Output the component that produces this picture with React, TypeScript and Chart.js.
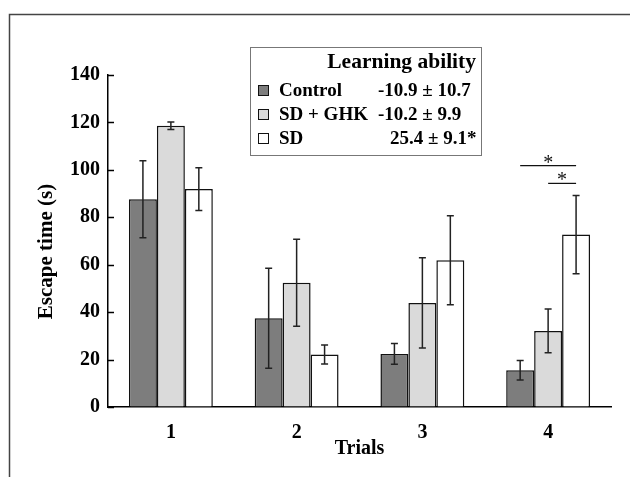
import React, { useEffect, useRef } from 'react';
import { Chart, registerables } from 'chart.js';
Chart.register(...registerables);

const trials = ['1', '2', '3', '4'];
const seriesNames = ['Control', 'SD + GHK', 'SD'];
const controlMean = [87.6, 37.4, 22.4, 15.5];
const controlErr = [16.2, 21.1, 4.4, 4.1];
const ghkMean = [118.6, 52.4, 43.9, 32.1];
const ghkErr = [1.6, 18.3, 19.0, 9.2];
const sdMean = [91.9, 22.1, 61.9, 72.7];
const sdErr = [9.0, 4.0, 18.8, 16.5];
const yTicks = [0, 20, 40, 60, 80, 100, 120, 140];
const legendTitle = 'Learning ability';
const learningValues = ['-10.9 ± 10.7', '-10.2 ± 9.9', '25.4 ± 9.1*'];
// significance brackets: trial index, from series, to series, level (s)
const sigTrial = [3, 3];
const sigFrom = [0, 1];
const sigTo = [2, 2];
const sigLevel = [101.8, 94.3];
const sigLabel = ['*', '*'];

const colors = ['#7d7d7d', '#dadada', '#ffffff'];
const errs = [controlErr, ghkErr, sdErr];
const FONT = "'Liberation Serif', 'Times New Roman', serif";

const extrasPlugin = {
  id: 'extras',
  beforeDraw(chart: any) {
    const ctx = chart.ctx;
    ctx.save();
    ctx.fillStyle = '#fff';
    ctx.fillRect(0, 0, chart.width, chart.height);
    ctx.strokeStyle = '#444';
    ctx.lineWidth = 1.5;
    ctx.strokeRect(9.5, 14.5, 700, 600);
    ctx.restore();
  },
  afterDatasetsDraw(chart: any) {
    const ctx = chart.ctx;
    const y = chart.scales.y;
    ctx.save();
    // error bars
    ctx.strokeStyle = '#222';
    ctx.lineWidth = 1.5;
    chart.data.datasets.forEach((ds: any, i: number) => {
      const meta = chart.getDatasetMeta(i);
      meta.data.forEach((el: any, j: number) => {
        const m = ds.data[j];
        const e = errs[i][j];
        const yt = y.getPixelForValue(m + e);
        const yb = y.getPixelForValue(m - e);
        ctx.beginPath();
        ctx.moveTo(el.x, yt);
        ctx.lineTo(el.x, yb);
        ctx.moveTo(el.x - 3.5, yt);
        ctx.lineTo(el.x + 3.5, yt);
        ctx.moveTo(el.x - 3.5, yb);
        ctx.lineTo(el.x + 3.5, yb);
        ctx.stroke();
      });
    });
    // significance lines
    ctx.strokeStyle = '#111';
    ctx.lineWidth = 1.2;
    ctx.fillStyle = '#111';
    ctx.font = `20px ${FONT}`;
    ctx.textAlign = 'center';
    ctx.textBaseline = 'alphabetic';
    sigTrial.forEach((t, k) => {
      const x1 = chart.getDatasetMeta(sigFrom[k]).data[t].x;
      const x2 = chart.getDatasetMeta(sigTo[k]).data[t].x;
      const yy = y.getPixelForValue(sigLevel[k]);
      ctx.beginPath();
      ctx.moveTo(x1, yy);
      ctx.lineTo(x2, yy);
      ctx.stroke();
      ctx.fillText(sigLabel[k], (x1 + x2) / 2, yy + 3);
    });
    // inward y ticks
    ctx.strokeStyle = '#000';
    ctx.lineWidth = 1.5;
    const ax = chart.chartArea.left;
    yTicks.forEach((v) => {
      const py = Math.round(y.getPixelForValue(v)) + 0.5;
      ctx.beginPath();
      ctx.moveTo(ax, py);
      ctx.lineTo(ax + 6, py);
      ctx.stroke();
    });
    ctx.restore();
  },
  afterDraw(chart: any) {
    const ctx = chart.ctx;
    ctx.save();
    // legend box
    ctx.fillStyle = '#fff';
    ctx.fillRect(250, 47, 231, 108);
    ctx.strokeStyle = '#777';
    ctx.lineWidth = 1;
    ctx.strokeRect(250.5, 47.5, 231, 108);
    ctx.fillStyle = '#000';
    ctx.textBaseline = 'middle';
    ctx.textAlign = 'right';
    ctx.font = `bold 21.5px ${FONT}`;
    ctx.fillText(legendTitle, 476, 62);
    const rowsY = [91, 115, 139];
    const valX = [378, 378, 390];
    ctx.font = `bold 19px ${FONT}`;
    seriesNames.forEach((n, i) => {
      const ry = rowsY[i];
      ctx.fillStyle = colors[i];
      ctx.fillRect(258, ry - 6, 11, 11);
      ctx.strokeStyle = '#111';
      ctx.lineWidth = 1;
      ctx.strokeRect(258.5, ry - 5.5, 10, 10);
      ctx.fillStyle = '#000';
      ctx.textAlign = 'left';
      ctx.fillText(n, 279, ry);
      ctx.fillText(learningValues[i], valX[i], ry);
    });
    ctx.restore();
  },
};

export default function App() {
  const ref = useRef<HTMLCanvasElement | null>(null);
  useEffect(() => {
    if (!ref.current) return;
    const chart = new Chart(ref.current, {
      type: 'bar',
      data: {
        labels: trials,
        datasets: [
          { label: seriesNames[0], data: controlMean, backgroundColor: colors[0] },
          { label: seriesNames[1], data: ghkMean, backgroundColor: colors[1] },
          { label: seriesNames[2], data: sdMean, backgroundColor: colors[2] },
        ].map((d) => ({
          ...d,
          borderColor: '#111',
          borderWidth: 1.5,
          barPercentage: 1,
          categoryPercentage: 0.667,
        })),
      },
      options: {
        responsive: false,
        animation: false,
        devicePixelRatio: 1,
        layout: { padding: { top: 75, right: 19, left: 0, bottom: 0 } },
        plugins: { legend: { display: false }, tooltip: { enabled: false } },
        scales: {
          x: {
            grid: { drawOnChartArea: false, drawTicks: false },
            border: { display: true, color: '#000', width: 1.5 },
            ticks: { color: '#000', padding: 14, font: { family: FONT, size: 20, weight: 'bold' } },
            title: {
              display: true,
              text: 'Trials',
              color: '#000',
              padding: { top: 0, bottom: 16 },
              font: { family: FONT, size: 20, weight: 'bold' },
            },
            afterFit: (s: any) => {
              s.height = 70;
            },
          },
          y: {
            min: 0,
            max: 140,
            afterBuildTicks: (s: any) => {
              s.ticks = yTicks.map((v) => ({ value: v }));
            },
            grid: { drawOnChartArea: false, drawTicks: false },
            border: { display: true, color: '#000', width: 1.5 },
            ticks: { color: '#000', padding: 8, font: { family: FONT, size: 20, weight: 'bold' } },
            title: {
              display: true,
              text: 'Escape time (s)\u00A0\u00A0\u00A0\u00A0',
              color: '#000',
              padding: { top: 34, bottom: 0 },
              font: { family: FONT, size: 21, weight: 'bold' },
            },
            afterFit: (s: any) => {
              s.width = 108;
            },
          },
        },
      },
      plugins: [extrasPlugin],
    } as any);
    return () => chart.destroy();
  }, []);
  return (
    <div style={{ position: 'fixed', left: 0, top: 0, width: 630, height: 477 }}>
      <canvas ref={ref} width={630} height={477} style={{ display: 'block' }} />
    </div>
  );
}
